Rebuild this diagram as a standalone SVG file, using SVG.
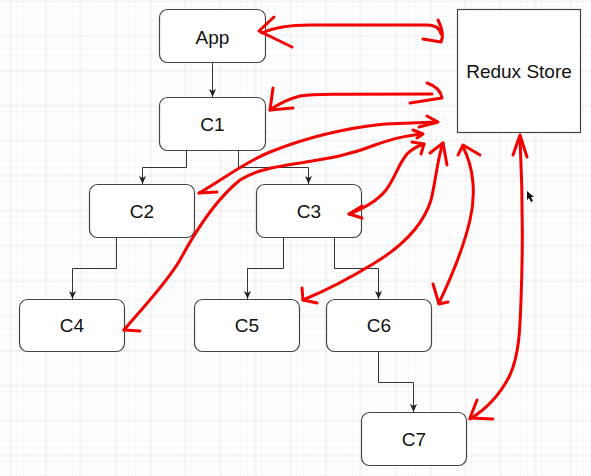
<svg xmlns="http://www.w3.org/2000/svg" width="591" height="476" viewBox="0 0 591 476">
<defs>
<pattern id="minor" width="7" height="7" patternUnits="userSpaceOnUse" x="3" y="0">
<path d="M7,0 V7 M0,7 H7" fill="none" stroke="#f0f0f0" stroke-width="1"/>
</pattern>
<pattern id="major" width="35" height="35" patternUnits="userSpaceOnUse" x="10.5" y="0.5">
<path d="M0,0 V35 M0,0 H35" fill="none" stroke="#dcdcdc" stroke-width="1"/>
</pattern>
<marker id="ah" viewBox="0 0 8 8" refX="8" refY="4" markerWidth="8" markerHeight="8" markerUnits="userSpaceOnUse" orient="auto">
<path d="M0,0.5 L8,4 L0,7.5 L2,4 Z" fill="#222"/>
</marker>
<style>
.node rect{fill:#fff;stroke:#444;stroke-width:1.2}
.node text{font-family:"Liberation Sans",Arial,sans-serif;font-size:19px;fill:#111;text-anchor:middle;dominant-baseline:central}
.conn path{fill:none;stroke:#333;stroke-width:1;marker-end:url(#ah)}
.red path{fill:none;stroke:#f40000;stroke-width:3;stroke-linecap:round;stroke-linejoin:round}
</style>
</defs>
<rect width="591" height="476" fill="#fff"/>
<rect width="591" height="476" fill="url(#minor)"/>
<rect width="591" height="476" fill="url(#major)"/>

<g id="connectors" class="conn">
<path d="M212.5,62 V97"/>
<path d="M186.5,150 V167.5 H142.5 V184"/>
<path d="M238.5,150 V167.5 H308.5 V184"/>
<path d="M116.5,238 V268.5 H72.5 V299"/>
<path d="M283.5,237 V268.5 H247.5 V299"/>
<path d="M334.5,237 V268.5 H378.5 V299"/>
<path d="M378.5,351 V382.5 H413.5 V412"/>
</g>

<g id="app" class="node"><rect x="159.5" y="9.5" width="106" height="53" rx="8"/><text x="212.5" y="37">App</text></g>
<g id="c1" class="node"><rect x="159.5" y="97.5" width="106" height="53" rx="8"/><text x="212.5" y="124">C1</text></g>
<g id="c2" class="node"><rect x="89.5" y="184.5" width="105" height="53" rx="8"/><text x="142" y="211">C2</text></g>
<g id="c3" class="node"><rect x="256.5" y="184.5" width="105" height="53" rx="8"/><text x="309" y="211">C3</text></g>
<g id="c4" class="node"><rect x="19.5" y="299.5" width="105" height="52" rx="8"/><text x="72" y="325">C4</text></g>
<g id="c5" class="node"><rect x="194.5" y="299.5" width="105" height="52" rx="8"/><text x="247" y="325">C5</text></g>
<g id="c6" class="node"><rect x="326.5" y="299.5" width="105" height="52" rx="8"/><text x="379" y="325">C6</text></g>
<g id="c7" class="node"><rect x="361.5" y="412.5" width="105" height="53" rx="8"/><text x="414" y="439">C7</text></g>
<g id="store" class="node"><rect x="457.5" y="9.5" width="123" height="123"/><text x="519" y="71">Redux Store</text></g>

<g id="annotations" class="red">
<path d="M262,33 C275,27 290,25 310,25 L427,25 C436,25 440,29 441,34"/>
<path d="M274,17 L259,31 L292,47"/>
<path d="M438,20 C442,28 444,36 441,42 L423,39"/>

<path d="M270,110 C278,104 285,100 300,96 C315,94 330,94 432,94"/>
<path d="M273,88 L270,110 L293,108"/>
<path d="M427,83 C436,86 441,92 442,98 L410,103"/>

<path d="M199,193 C225,178 245,162 270,152 C305,138 345,128 385,124 L437,122"/>
<path d="M199,193 L217,192"/>
<path d="M427,116 L438,122 L419,127"/>

<path d="M124,330 C145,305 165,285 180,260 C195,232 215,200 240,180 C255,170 275,167 300,163 C330,158 350,155 375,145 C395,138 405,136 422,134"/>
<path d="M124,330 L140,331"/>
<path d="M413,130 L423,134 L417,138"/>

<path d="M349,214 C365,208 378,200 386,190 C395,178 398,165 407,154 C413,148 418,146 424,144"/>
<path d="M362,206 L349,214 L362,218"/>
<path d="M412,142 L424,144 L421,154"/>

<path d="M303,300 C320,293 345,281 373,264 C403,246 423,226 431,200 C436,180 437,160 443,143"/>
<path d="M302,288 L303,300 L317,303"/>
<path d="M430,153 L443,143 L447,165"/>

<path d="M439,303 C450,280 463,250 470,220 C476,195 474,168 463,147"/>
<path d="M433,284 L439,304 L448,302"/>
<path d="M458,155 L463,145 L480,155"/>

<path d="M470,419 C485,410 500,395 510,375 C519,355 520,330 521,300 C523,250 523,200 520,138"/>
<path d="M477,400 L470,418 L493,419"/>
<path d="M513,155 L520,135 L527,157"/>
</g>

<path id="cursor" d="M527,191 L527,200 L529,198 L531,202 L533,201 L531,197 L534,197 Z" fill="#111"/>
</svg>
